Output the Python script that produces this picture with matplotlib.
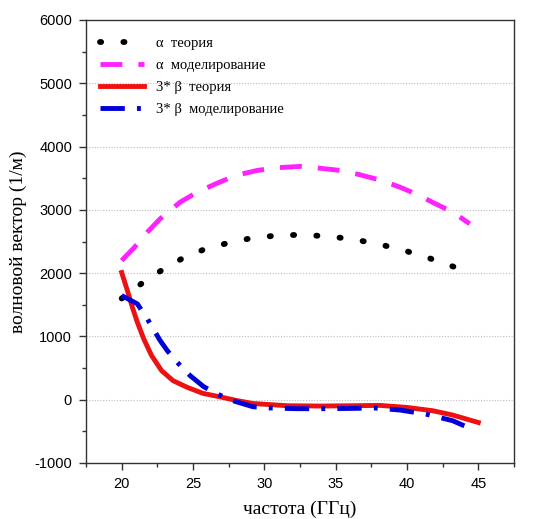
import matplotlib
matplotlib.use("Agg")
import matplotlib.pyplot as plt
import numpy as np

plt.rcParams["axes.unicode_minus"] = False

# data
alpha_th_x = [20.0, 21.3, 22.7, 24.2, 25.7, 27.4, 29.1, 30.9, 32.5, 34.3, 36.0, 37.7, 39.4, 41.1, 42.7, 44.4]
alpha_th_y = [1600, 1820, 2030, 2226, 2368, 2474, 2553, 2595, 2606, 2584, 2543, 2474, 2384, 2273, 2147, 2010]

alpha_mod_x = [20.0, 20.9, 21.8, 22.7, 24.1, 25.3, 26.7, 28.0, 29.5, 30.9, 32.5, 33.8, 35.3, 36.7, 38.2, 39.5, 40.6, 41.9, 43.2, 44.4]
alpha_mod_y = [2199, 2410, 2647, 2859, 3122, 3280, 3422, 3544, 3623, 3666, 3687, 3660, 3623, 3555, 3465, 3359, 3255, 3107, 2964, 2780]

beta_th_x = [20.0, 20.4, 20.75, 21.1, 21.55, 22.1, 22.8, 23.6, 24.6, 25.7, 26.9, 28.0, 29.2, 31.6, 33.9, 36.2, 38.1, 40.0, 41.8, 43.2, 45.0]
beta_th_y = [2010, 1725, 1461, 1223, 960, 696, 459, 301, 195, 100, 45, -10, -60, -95, -100, -95, -90, -122, -174, -242, -360]

beta_mod_x = [20.0, 21.1, 21.8, 22.7, 23.2, 23.9, 24.8, 25.75, 26.7, 27.8, 29.2, 30.4, 32.3, 34.1, 36.0, 37.7, 39.5, 41.3, 43.2, 44.8]
beta_mod_y = [1646, 1514, 1277, 934, 775, 590, 380, 206, 90, -16, -111, -131, -142, -142, -138, -131, -163, -226, -332, -490]

labels = ["α  теория", "α  моделирование", "3* β  теория", "3* β  моделирование"]
xlabel = "частота (ГГц)"
ylabel = "волновой вектор (1/м)"
xticks = [20, 25, 30, 35, 40, 45]
yticks = [-1000, 0, 1000, 2000, 3000, 4000, 5000, 6000]

fig = plt.figure(figsize=(5.33, 5.19), dpi=100)
ax = fig.add_axes([86/533, 56/519, (514-86)/533, (463-20)/519])

serif = ["Liberation Serif", "DejaVu Serif"]

ax.plot(alpha_th_x, alpha_th_y, color="black", lw=4.2, linestyle=(0, (0.2, 3.8)),
        dash_capstyle="round", label=labels[0])
ax.plot(alpha_mod_x, alpha_mod_y, color="#ff22ff", lw=3.5, linestyle=(0, (4.5, 3.3)),
        label=labels[1])
ax.plot(beta_th_x, beta_th_y, color="#ee1111", lw=3.5, linestyle="-", label=labels[2],
        solid_joinstyle="round")
ax.plot(beta_mod_x, beta_mod_y, color="#0000d8", lw=3.5, linestyle=(0, (5, 2.5, 0.8, 2.5)),
        label=labels[3])

ax.set_xlim(17.5, 47.5)
ax.set_ylim(-1000, 6000)
ax.set_xticks(xticks)
ax.set_yticks(yticks)
ax.set_xticks(np.arange(17.5, 48, 2.5), minor=True)
ax.set_yticks(np.arange(-1000, 6001, 500), minor=True)
ax.tick_params(which="both", direction="out", width=1, color="#333333")
ax.tick_params(which="major", length=5, labelsize=10.5, pad=5)
ax.tick_params(which="minor", length=3)
for lab in ax.get_xticklabels() + ax.get_yticklabels():
    lab.set_fontfamily(["Liberation Sans", "DejaVu Sans"])

ax.yaxis.grid(True, which="major", linestyle=(0, (1, 1.5)), color="#bbbbbb", lw=0.8)
ax.set_axisbelow(True)
for s in ax.spines.values():
    s.set_color("#333333")
    s.set_linewidth(1.0)

ax.set_xlabel(xlabel, family=serif, fontsize=14, labelpad=7)
ax.set_ylabel(ylabel, family=serif, fontsize=14, labelpad=5)

leg = ax.legend(loc="upper left", frameon=False, prop={"family": serif, "size": 10.5},
                handlelength=3.0, handletextpad=0.8, labelspacing=0.6,
                bbox_to_anchor=(0.01, 0.985), borderaxespad=0.3)

fig.savefig("out.png", dpi=100)
